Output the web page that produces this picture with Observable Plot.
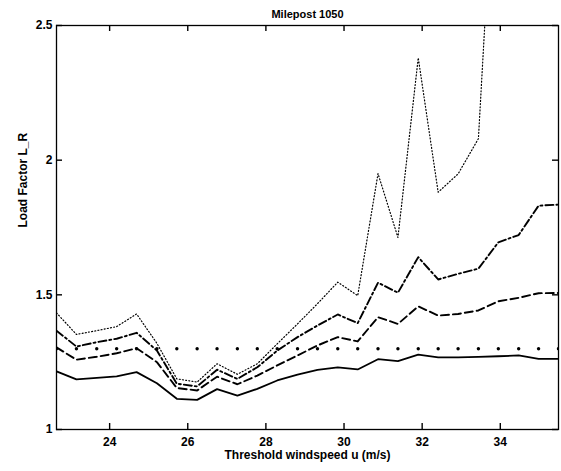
<!DOCTYPE html>
<html><head><meta charset="utf-8">
<script src="https://cdn.jsdelivr.net/npm/d3@7"></script>
<script src="https://cdn.jsdelivr.net/npm/@observablehq/plot@0.6"></script>
<style>body{margin:0;background:#fff}</style>
</head><body><div id="chart"></div>
<script>
const titleText = "Milepost 1050";
const xLabel = "Threshold windspeed u (m/s)";
const yLabel = "Load Factor L_R";
const windspeed = [22.64, 23.15, 23.67, 24.18, 24.69, 25.21, 25.72, 26.24, 26.75, 27.27, 27.78, 28.29, 28.81,
  29.32, 29.84, 30.35, 30.87, 31.38, 31.90, 32.41, 32.92, 33.44, 33.95, 34.47, 34.98, 35.49];
const lrSolid = [1.216, 1.186, 1.192, 1.197, 1.213, 1.172, 1.114, 1.110, 1.150, 1.126, 1.151, 1.182, 1.204,
  1.221, 1.231, 1.223, 1.261, 1.254, 1.278, 1.268, 1.268, 1.270, 1.272, 1.275, 1.262, 1.262];
const lrDashed = [1.305, 1.259, 1.270, 1.283, 1.302, 1.250, 1.154, 1.145, 1.196, 1.168, 1.200, 1.238, 1.275,
  1.312, 1.343, 1.327, 1.417, 1.392, 1.457, 1.423, 1.429, 1.442, 1.476, 1.489, 1.506, 1.507];
const lrDashDot = [1.367, 1.308, 1.324, 1.337, 1.359, 1.293, 1.170, 1.160, 1.222, 1.188, 1.231, 1.293, 1.343,
  1.386, 1.427, 1.395, 1.545, 1.508, 1.640, 1.557, 1.578, 1.597, 1.695, 1.722, 1.831, 1.835];
const lrDotted = [1.433, 1.353, 1.367, 1.382, 1.429, 1.320, 1.188, 1.176, 1.244, 1.205, 1.244, 1.318, 1.392,
  1.467, 1.547, 1.497, 1.950, 1.713, 2.380, 1.881, 1.949, 2.080, 3.400, 3.800, 4.200, 4.500];
const lrDots = [1.3, 1.3, 1.3, 1.3, 1.3, 1.3, 1.3, 1.3, 1.3, 1.3, 1.3, 1.3, 1.3,
  1.3, 1.3, 1.3, 1.3, 1.3, 1.3, 1.3, 1.3, 1.3, 1.3, 1.3, 1.3, 1.3];
const xTicks = [24, 26, 28, 30, 32, 34];
const yTicks = [1, 1.5, 2, 2.5];

const W = 561, H = 471, ML = 56, MR = 3, MT = 25, MB = 42;
const FW = W - ML - MR, FH = H - MT - MB, TICK = 6;

const series = [
  {values: lrSolid, dash: null, width: 1.8},
  {values: lrDashed, dash: "8,4", width: 1.9},
  {values: lrDashDot, dash: "8,3,2,3", width: 1.9},
  {values: lrDotted, dash: "1,2.2", width: 1.2}
];
const toRows = vals => windspeed.map((x, i) => ({x, y: vals[i]}));
const font = {fontFamily: "'Liberation Sans', Arial, sans-serif", fontWeight: "bold"};
const tickStyle = {stroke: "black", strokeWidth: 1.4};

const chart = Plot.plot({
  width: W,
  height: H,
  marginLeft: ML,
  marginRight: MR,
  marginTop: MT,
  marginBottom: MB,
  style: {fontFamily: font.fontFamily, fontSize: "12px", color: "black", background: "white"},
  x: {domain: [windspeed[0], windspeed[windspeed.length - 1]], label: null},
  y: {domain: [1, 2.5], label: null},
  marks: [
    ...series.map(s => Plot.line(toRows(s.values), {x: "x", y: "y", stroke: "black", strokeWidth: s.width,
      strokeDasharray: s.dash, clip: true})),
    Plot.dot(toRows(lrDots), {x: "x", y: "y", r: 1.7, fill: "black", stroke: null, clip: true}),
    Plot.frame({stroke: "black", strokeWidth: 1.3}),
    // inward ticks on all four sides
    Plot.tickX(xTicks, {x: d => d, insetTop: FH - TICK, ...tickStyle}),
    Plot.tickX(xTicks, {x: d => d, insetBottom: FH - TICK, ...tickStyle}),
    Plot.tickY(yTicks, {y: d => d, insetRight: FW - TICK, ...tickStyle}),
    Plot.tickY(yTicks, {y: d => d, insetLeft: FW - TICK, ...tickStyle}),
    // tick labels
    Plot.axisX(xTicks, {anchor: "bottom", tickSize: 0, tickPadding: 8, fontSize: 12, fontWeight: "bold", tickFormat: d => String(d)}),
    Plot.axisY(yTicks, {anchor: "left", tickSize: 0, tickPadding: 4, fontSize: 12, fontWeight: "bold", tickFormat: d => String(d)}),
    Plot.text([titleText], {frameAnchor: "top", dy: -15, fontSize: 11, ...font}),
    Plot.text([xLabel], {frameAnchor: "bottom", dy: 29, fontSize: 12, ...font}),
    Plot.text([yLabel], {frameAnchor: "left", dx: -33, rotate: -90, fontSize: 12, ...font})
  ]
});
document.getElementById("chart").appendChild(chart);
</script>
</body></html>
